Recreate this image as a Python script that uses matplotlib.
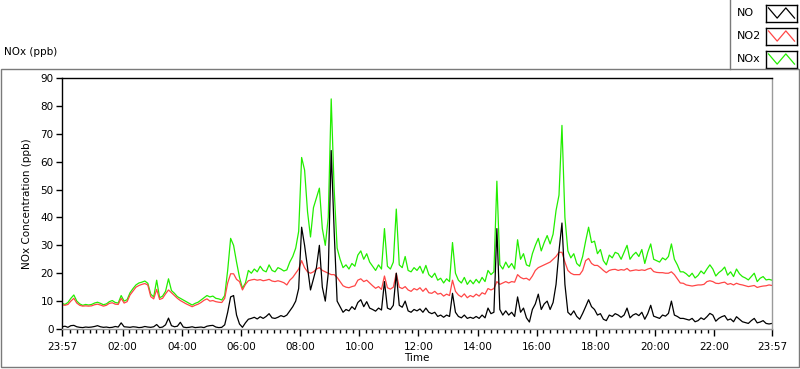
#!/usr/bin/env python3
"""NOx daily trace (NO, NO2, NOx) in a LabVIEW-style chart panel."""

import matplotlib
matplotlib.use("Agg")
import matplotlib.pyplot as plt
from matplotlib.lines import Line2D
from matplotlib.patches import Rectangle
import numpy as np

# ---------------------------------------------------------------------------
# data: 6-minute samples starting at 23:57, values in ppb
# ---------------------------------------------------------------------------
STEP_H = 0.1

no_ppb = [
    0.8, 1.0, 0.6, 1.2, 1.3, 0.8, 0.6, 0.5, 0.7, 0.6,
    0.7, 0.9, 1.2, 0.8, 0.6, 0.7, 0.5, 0.6, 0.9, 0.7,
    2.2, 0.8, 0.7, 0.6, 0.8, 0.7, 0.5, 0.6, 0.9, 0.7,
    0.6, 0.8, 1.6, 0.5, 0.7, 1.5, 3.9, 1.2, 0.8, 1.0,
    2.4, 0.7, 0.5, 0.6, 0.8, 0.5, 0.6, 0.7, 0.5, 1.0,
    1.2, 1.3, 0.7, 0.5, 0.6, 1.5, 6.0, 11.5, 12.0, 5.0,
    1.8, 0.6, 2.2, 3.5, 3.8, 4.2, 3.6, 4.4, 3.8, 4.5,
    5.5, 4.0, 3.8, 4.2, 4.8, 4.4, 5.0, 6.5, 8.0, 10.0,
    14.5, 36.5, 30.0, 22.0, 14.0, 18.0, 22.0, 30.0, 15.0, 10.0,
    20.0, 64.0, 35.0, 10.0, 8.0, 6.0, 7.0, 6.5, 8.0, 7.0,
    9.5, 10.5, 8.0, 9.8, 7.5, 7.0, 6.4, 7.5, 6.8, 17.0,
    7.5, 7.0, 8.5, 20.0, 8.5, 7.8, 10.0, 6.5, 6.0, 7.0,
    6.5, 7.2, 6.0, 7.5, 6.0, 5.5, 6.0, 4.5, 5.0, 4.2,
    5.0, 4.5, 12.8, 6.0, 4.5, 4.0, 5.0, 3.8, 4.2, 3.8,
    4.5, 3.8, 5.0, 4.0, 7.5, 5.5, 6.0, 36.0, 7.0, 5.0,
    6.5, 5.0, 6.0, 4.5, 11.5, 6.0, 7.5, 4.0, 2.5, 7.0,
    9.0, 12.5, 7.0, 9.0, 10.0, 7.0, 9.5, 16.0, 28.0, 38.0,
    16.0, 6.0, 5.0, 6.5, 4.5, 3.5, 5.6, 8.0, 10.5, 8.0,
    7.0, 5.0, 5.5, 3.5, 3.0, 5.0, 4.5, 5.5, 5.0, 4.2,
    5.0, 7.5, 4.0, 5.0, 5.5, 4.8, 6.0, 3.5, 5.5, 8.5,
    4.6, 4.2, 3.8, 5.0, 4.6, 5.6, 10.0, 5.0, 4.5, 3.8,
    3.8, 3.5, 3.2, 3.8, 2.6, 3.0, 4.0, 3.4, 4.4, 5.6,
    5.0, 2.8, 3.8, 4.4, 4.8, 3.2, 3.6, 2.6, 4.4, 3.5,
    2.6, 2.3, 2.0, 3.0, 3.8, 2.2, 2.5, 3.0, 2.0, 1.8, 2.0,
]

no2_ppb = [
    8.7, 8.5, 8.8, 10.0, 11.0, 9.3, 8.5, 8.2, 8.3, 8.2,
    8.3, 8.7, 8.9, 8.6, 8.2, 8.5, 9.2, 9.4, 8.9, 8.8,
    11.0, 9.3, 9.8, 12.2, 13.6, 15.0, 15.6, 16.0, 16.3, 15.8,
    11.6, 10.8, 14.2, 10.6, 11.0, 12.6, 14.0, 13.0, 12.0, 11.0,
    10.2, 9.6, 9.0, 8.5, 8.0, 8.5, 8.9, 9.5, 10.3, 10.8,
    10.0, 10.2, 9.8, 9.6, 9.5, 11.0, 16.5, 19.8, 19.8, 17.8,
    17.0, 14.0, 16.0, 17.3, 17.6, 17.8, 17.5, 17.7, 17.3, 17.5,
    17.8, 17.2, 17.0, 17.3, 17.0, 16.6, 15.8, 17.5, 18.5, 20.0,
    21.5, 24.5, 22.0, 20.5, 20.0, 20.5, 21.5, 22.0, 21.0, 20.5,
    20.0, 19.5, 19.5, 18.5, 17.0, 15.5, 15.0, 14.8, 15.2, 15.5,
    17.5, 18.0, 17.0, 17.5, 16.5, 15.5, 14.6, 15.2, 14.2, 19.0,
    14.8, 14.3, 15.0, 20.0, 15.0, 14.5, 15.2, 14.0, 13.5, 14.5,
    14.0, 14.8, 13.5, 14.6, 13.0, 12.8, 13.5, 12.5, 12.8, 11.8,
    12.5, 12.0, 17.5, 13.5, 12.2, 11.5, 12.6, 11.2, 12.0, 11.5,
    12.5, 11.8, 13.0, 12.5, 14.5, 14.0, 14.5, 17.0, 16.0, 16.5,
    17.0, 16.5, 17.0, 16.8, 19.5, 18.5, 18.0, 18.2, 17.5, 19.0,
    21.0, 22.0, 22.5, 23.0, 23.5, 24.0, 25.0, 26.0, 27.5, 27.5,
    24.0, 21.0, 20.0, 19.5, 19.5, 19.5, 21.0, 24.5, 25.3, 23.5,
    22.8, 22.8, 22.0, 21.0, 20.2, 21.0, 21.3, 21.4, 21.0, 21.3,
    21.1, 21.7, 20.8, 21.0, 21.2, 21.0, 21.2, 21.0, 21.5, 21.8,
    20.6, 20.3, 20.2, 20.2, 20.0, 20.0, 20.5, 19.5, 18.0, 16.5,
    16.4, 15.8, 15.6, 15.4, 15.6, 15.8, 15.8, 16.0, 17.0, 17.3,
    17.0, 16.4, 16.3, 16.6, 16.8, 16.0, 16.3, 15.8, 16.4, 16.0,
    15.8, 15.5, 15.2, 15.4, 15.6, 14.9, 15.2, 15.4, 15.5, 15.8, 15.6,
]

nox_ppb = [
    9.2, 8.8, 9.5, 11.0, 12.2, 10.0, 9.0, 8.5, 8.8, 8.6,
    8.8, 9.3, 9.6, 9.2, 8.7, 9.0, 9.8, 10.2, 9.5, 9.3,
    12.0, 10.0, 10.5, 13.0, 14.5, 15.8, 16.5, 16.8, 17.2, 16.4,
    12.5, 11.5, 17.5, 11.2, 11.8, 13.5, 18.0, 13.8, 12.8, 11.6,
    11.0, 10.4, 9.8, 9.2, 8.6, 9.2, 9.6, 10.4, 11.2, 12.0,
    11.5, 11.8, 11.0, 10.8, 10.4, 12.0, 21.0, 32.5, 30.0, 24.0,
    18.5, 14.6, 16.5, 21.0, 20.0, 21.5, 20.5, 22.5, 21.0, 20.5,
    23.0, 21.0, 20.5, 22.0, 21.5, 20.8, 21.2, 24.0, 26.0, 29.0,
    35.0, 61.5, 57.0, 42.0, 33.0, 43.5, 47.0, 50.5, 36.0, 30.0,
    40.0, 82.5, 50.0, 29.0, 25.0, 22.0, 23.0, 21.5, 23.5, 22.5,
    26.5, 28.0, 25.0, 27.0, 24.0, 22.5, 21.0, 23.0, 21.5, 36.0,
    22.5, 21.5, 24.0, 43.0, 23.0, 22.0, 26.0, 21.0, 20.5, 22.0,
    21.0, 22.5, 20.0, 22.8, 19.5, 18.5, 20.0, 17.5, 18.2, 16.5,
    18.0, 17.0, 31.0, 20.0, 17.5, 16.5, 18.5, 16.0, 17.5, 16.2,
    17.8, 16.5, 18.5, 17.0, 21.0, 19.5, 20.5, 53.0, 23.0, 21.5,
    24.0, 22.0, 23.5, 21.5, 32.0, 25.0, 27.0, 23.0, 22.5, 27.0,
    30.0, 32.5, 28.0, 31.0, 33.5, 30.5, 34.0, 42.5, 48.0, 73.0,
    40.0, 28.0, 25.5, 27.0, 23.5, 22.5, 26.0, 31.5, 36.5, 31.0,
    31.5, 27.0, 28.5, 24.5, 23.0, 26.5, 25.5, 27.5, 27.0, 25.0,
    27.5, 30.0, 25.0, 26.5, 27.5, 26.0, 28.5, 23.5, 27.5, 30.5,
    25.0, 24.5, 24.0, 25.5, 24.8, 26.0, 30.5, 25.0, 23.0, 20.5,
    20.5, 19.8, 18.8, 20.0, 18.3, 19.2, 20.8, 19.8, 21.5, 23.0,
    21.5, 19.0, 20.2, 21.0, 22.2, 19.3, 20.5, 18.8, 21.5, 19.8,
    18.8, 18.3, 17.6, 18.8, 20.0, 17.0, 18.2, 18.8, 17.6, 17.8, 17.5,
]

# x tick labels; hours measured from 23:57
tick_hours = [0, 2.05, 4.05, 6.05, 8.05, 10.05, 12.05, 14.05, 16.05,
              18.05, 20.05, 22.05, 24]
tick_labels = ["23:57", "02:00", "04:00", "06:00", "08:00", "10:00", "12:00",
               "14:00", "16:00", "18:00", "20:00", "22:00", "23:57"]

series_names = ["NO", "NO2", "NOx"]

COLOURS = {"NO": "black", "NO2": "#ff4646", "NOx": "#22ee00"}

plt.rcParams.update({
    "font.family": "DejaVu Sans",
    "font.size": 7.5,
})

W, H = 800, 369
fig = plt.figure(figsize=(W / 100, H / 100), dpi=100)
fig.patch.set_facecolor("white")


def fx(px):
    return px / W


def fy(py):
    return 1 - py / H


# panel frame + legend box divider
fig.add_artist(Rectangle((fx(0.5), fy(367)), fx(798.5), fy(69) - fy(367),
                         transform=fig.transFigure, fill=False,
                         edgecolor="#7a7a7a", linewidth=1.0))
fig.add_artist(Line2D([fx(729.5), fx(729.5)], [fy(0), fy(69)],
                      transform=fig.transFigure, color="#7a7a7a",
                      linewidth=1.0))

ax = fig.add_axes([fx(62), fy(329), fx(772) - fx(62), fy(78) - fy(329)])
t = np.arange(len(nox_ppb)) * STEP_H
series = {"NO": no_ppb, "NO2": no2_ppb, "NOx": nox_ppb}
for name in ["NOx", "NO2", "NO"]:
    ax.plot(t, series[name], color=COLOURS[name], linewidth=0.9)

ax.set_xlim(0, 24)
ax.set_ylim(0, 90)
ax.set_yticks(np.arange(0, 91, 10))
ax.set_xticks(tick_hours)
ax.set_xticklabels(tick_labels)
minor = [2.05 + k * 2 / 9 for k in range(-9, 10 * 9)]
minor = [m for m in minor if 0.1 < m < 23.95 and
         min(abs(m - h) for h in tick_hours) > 0.05]
ax.set_xticks(minor, minor=True)
ax.tick_params(axis="x", which="major", length=5, width=1, pad=4)
ax.tick_params(axis="x", which="minor", length=3, width=1)
ax.tick_params(axis="y", length=4, width=1, pad=2)

for side in ["top", "left"]:
    ax.spines[side].set_color("black")
for side in ["bottom", "right"]:
    ax.spines[side].set_color("#9a9a9a")
for s in ax.spines.values():
    s.set_linewidth(1.0)

ax.set_ylabel("NOx Concentration (ppb)", labelpad=6)
ax.set_xlabel("Time", labelpad=1)

fig.text(fx(4), fy(52), "NOx (ppb)", ha="left", va="center", fontsize=7.5)

# legend: text + boxed zigzag swatches
for i, name in enumerate(series_names):
    yc = 13 + 23 * i
    fig.text(fx(737), fy(yc), name, ha="left", va="center", fontsize=8)
    sw = fig.add_axes([fx(766), fy(yc + 8.5), fx(31), fy(yc - 8.5) - fy(yc + 8.5)])
    sw.plot([0.08, 0.36, 0.64, 0.92], [0.8, 0.2, 0.8, 0.2],
            color=COLOURS[name], linewidth=0.9)
    sw.set_xlim(0, 1)
    sw.set_ylim(0, 1)
    sw.set_xticks([])
    sw.set_yticks([])
    for s in sw.spines.values():
        s.set_color("black")
        s.set_linewidth(1.0)

fig.savefig("out.png", dpi=100)
